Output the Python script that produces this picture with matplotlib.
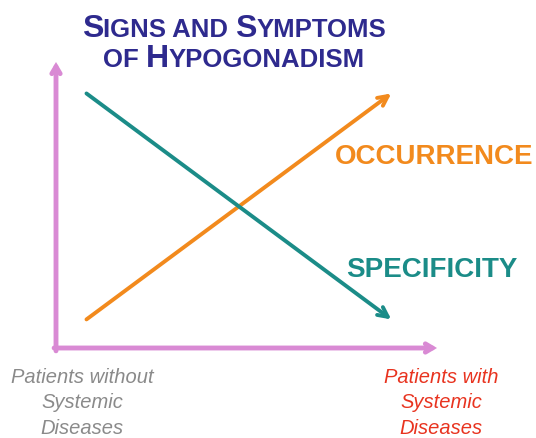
import matplotlib
matplotlib.use("Agg")
import matplotlib.pyplot as plt

# data: two trends across the patient spectrum
x_pos = [0.08, 0.88]
occurrence = [0.10, 0.89]
specificity = [0.89, 0.10]

title_line1 = [("S", 23), ("IGNS AND ", 18.5), ("S", 23), ("YMPTOMS", 18.5)]
title_line2 = [("OF ", 18.5), ("H", 23), ("YPOGONADISM", 18.5)]
left_label = "Patients without\nSystemic\nDiseases"
right_label = "Patients with\nSystemic\nDiseases"

navy = "#2e2a8e"
orange = "#f28a1d"
teal = "#1b8c88"
pink = "#d98ad4"

plt.rcParams["font.family"] = ["Liberation Sans", "DejaVu Sans"]

fig = plt.figure(figsize=(5.36, 4.38), dpi=100)
ax = fig.add_axes([56 / 536, 90 / 438, 381 / 536, 286 / 438])
ax.set_xlim(0, 1)
ax.set_ylim(0, 1)
ax.axis("off")

# axes drawn as arrows
arr = dict(arrowstyle="->,head_length=0.5,head_width=0.3", color=pink, lw=3.5,
           shrinkA=0, shrinkB=0, joinstyle="miter")
ax.annotate("", xy=(0, 1), xytext=(0, -0.01), xycoords="axes fraction", arrowprops=arr,
            annotation_clip=False)
ax.annotate("", xy=(1, 0), xytext=(-0.005, 0), xycoords="axes fraction", arrowprops=arr,
            annotation_clip=False)

# trend lines
for vals, col in [(occurrence, orange), (specificity, teal)]:
    ax.annotate("", xy=(x_pos[1], vals[1]), xytext=(x_pos[0], vals[0]),
                arrowprops=dict(arrowstyle="->,head_length=0.7,head_width=0.35",
                                color=col, lw=2.8, shrinkA=0, shrinkB=0))

fig.text(533 / 536, 1 - 157 / 438, "OCCURRENCE", color=orange, fontsize=20,
         fontweight="bold", ha="right", va="center")
fig.text(432 / 536, 1 - 270 / 438, "SPECIFICITY", color=teal, fontsize=20,
         fontweight="bold", ha="center", va="center")


def draw_line(pieces, cx, y):
    # fake small caps: pieces of different size on one baseline, centred
    renderer = fig.canvas.get_renderer()
    widths = []
    for s, size in pieces:
        tmp = fig.text(0, 0, s, fontsize=size, fontweight="bold")
        widths.append(tmp.get_window_extent(renderer).width)
        tmp.remove()
    total = sum(widths)
    xpx = cx * fig.bbox.width - total / 2
    for (s, size), w in zip(pieces, widths):
        fig.text(xpx / fig.bbox.width, y, s, fontsize=size, color=navy,
                 fontweight="bold", va="baseline", ha="left")
        xpx += w


draw_line(title_line1, 234 / 536, 1 - 37 / 438)
draw_line(title_line2, 234 / 536, 1 - 67 / 438)

fig.text(82 / 536, 1 - 403 / 438, left_label, color="#8a8a8a", fontsize=14.5,
         style="italic", ha="center", va="center", linespacing=1.45)
fig.text(441 / 536, 1 - 403 / 438, right_label, color="#e8331f", fontsize=14.5,
         style="italic", ha="center", va="center", linespacing=1.45)

fig.savefig("out.png", dpi=100)
